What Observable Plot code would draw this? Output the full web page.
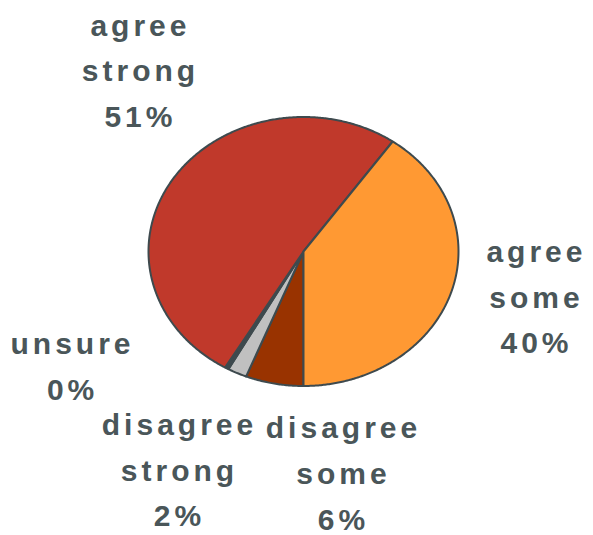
<!DOCTYPE html>
<html>
<head>
<meta charset="utf-8">
<script src="https://cdn.jsdelivr.net/npm/d3@7"></script>
<script src="https://cdn.jsdelivr.net/npm/@observablehq/plot@0.6"></script>
<style>
  html, body { margin: 0; padding: 0; background: #fff; }
  #chart svg text { letter-spacing: 4px; }
</style>
</head>
<body>
<div id="chart"></div>
<script>
// Slices, clockwise from the bottom of the pie
const categories = ["disagree some", "disagree strong", "unsure", "agree strong", "agree some"];
const values = [6, 2, 0.4, 51, 40];
const colors = ["#993300", "#c0c0c0", "#3e4a4e", "#c0392b", "#ff9933"];
// label anchor points (in the pie's unit coordinates)
const labelX = [0.258, -0.80, -1.49, -1.052, 1.503];
const labelY = [-1.62, -1.597, -0.824, 1.375, -0.31];

const arcs = d3.pie().sort(null).startAngle(Math.PI).endAngle(3 * Math.PI)(values);

// polygon vertices of each slice: centre + arc sampled along the circle
const pts = [];
arcs.forEach((a, i) => {
  const name = categories[i];
  pts.push({name, x: 0, y: 0});
  const n = Math.max(2, Math.ceil((a.endAngle - a.startAngle) / (Math.PI / 360)));
  for (let k = 0; k <= n; k++) {
    const t = a.startAngle + (a.endAngle - a.startAngle) * k / n;
    pts.push({name, x: Math.sin(t), y: Math.cos(t)});
  }
});

const labels = categories.map((c, i) => ({
  text: c.replace(" ", "\n") + "\n" + Math.round(values[i]) + "%",
  x: labelX[i],
  y: labelY[i]
}));

const chart = Plot.plot({
  width: 593,
  height: 535,
  margin: 0,
  x: {domain: [-1, 1], range: [148, 458], axis: null},
  y: {domain: [-1, 1], range: [385.5, 116.5], axis: null},
  color: {domain: categories, range: colors},
  marks: [
    Plot.line(pts, {
      x: "x", y: "y", z: "name", fill: "name",
      stroke: "#3e4a4e", strokeWidth: 2, strokeLinejoin: "round",
      curve: "linear-closed"
    }),
    Plot.text(labels, {
      x: "x", y: "y", text: "text",
      fontFamily: "Liberation Sans, Arial, sans-serif",
      fontWeight: "bold", fontSize: 30, lineHeight: 1.52,
      fill: "#4a5659", textAnchor: "middle", lineAnchor: "middle"
    })
  ]
});
document.getElementById("chart").appendChild(chart);
</script>
</body>
</html>
